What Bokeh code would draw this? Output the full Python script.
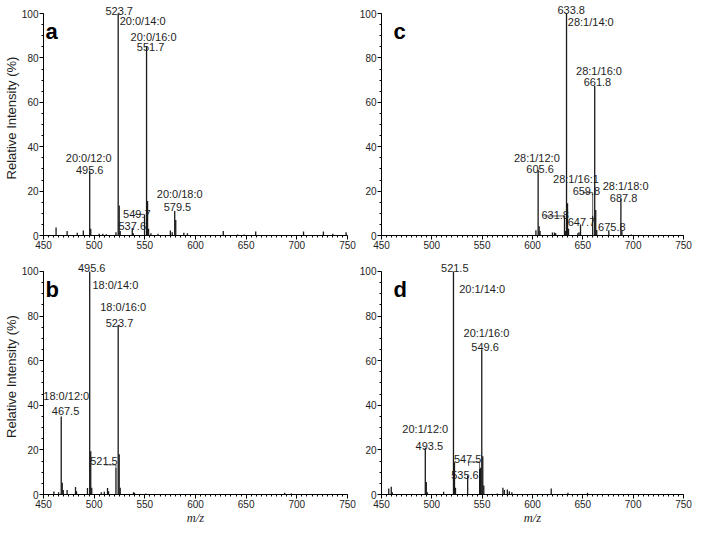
from bokeh.plotting import figure
from bokeh.models import Range1d, FixedTicker, Label, ColumnDataSource
from bokeh.layouts import gridplot
from bokeh.embed import file_html
from bokeh.resources import INLINE

# ---------------- data ----------------
x_ticks = [450, 500, 550, 600, 650, 700, 750]
x_minor = list(range(450, 751, 5))
y_ticks = [0, 20, 40, 60, 80, 100]
y_minor = list(range(0, 101, 5))

# panel a : 20:0 series
mz_a = [462.4, 473.3, 483.3, 489.3, 495.6, 496.6, 505.0, 508.5, 512.0, 521.5,
        523.7, 524.7, 525.7, 537.6, 538.6, 549.7, 551.7, 552.7, 553.7, 556.0,
        563.0, 575.2, 577.0, 579.5, 580.5, 588.5, 592.0, 627.4, 641.5, 648.0,
        659.4, 706.6, 726.2, 735.5, 748.6]
int_a = [3.6, 2.0, 1.2, 2.2, 29.0, 3.0, 0.8, 0.8, 0.6, 1.5,
         100.0, 13.5, 2.0, 3.4, 1.0, 9.5, 85.0, 15.5, 3.0, 1.0,
         0.8, 2.3, 1.5, 11.0, 7.0, 1.2, 1.0, 2.0, 0.5, 0.5,
         1.8, 1.8, 1.8, 0.8, 1.5]

# panel b : 18:0 series
mz_b = [460.3, 464.9, 467.5, 468.5, 469.5, 473.3, 481.6, 482.6, 493.4, 495.6,
        496.6, 497.6, 507.0, 510.0, 513.2, 514.2, 521.5, 523.7, 524.7, 525.7,
        538.8, 539.8, 551.0, 688.0, 694.5]
int_b = [1.3, 1.0, 35.0, 5.3, 2.0, 2.0, 3.4, 1.5, 2.9, 100.0,
         19.4, 3.0, 1.0, 1.2, 2.9, 1.5, 12.0, 76.0, 18.0, 3.0,
         1.0, 0.8, 0.5, 0.8, 0.5]

# panel c : 28:1 series
mz_c = [603.4, 605.6, 606.6, 607.5, 619.8, 621.8, 623.0, 631.8, 632.8, 633.8,
        634.8, 635.8, 645.0, 646.2, 647.7, 659.8, 661.8, 662.8, 663.8, 675.8,
        687.8, 688.8, 698.0]
int_c = [2.4, 29.5, 4.2, 2.0, 1.3, 1.3, 1.0, 8.8, 2.0, 100.0,
         14.5, 3.0, 1.0, 1.5, 5.0, 9.0, 67.5, 11.5, 2.5, 2.4,
         16.5, 2.0, 0.5]

# panel d : 20:1 series
mz_d = [457.2, 459.7, 460.7, 493.5, 494.5, 495.5, 511.7, 521.5, 522.5, 523.5,
        535.6, 547.5, 548.5, 549.6, 550.6, 551.6, 565.0, 570.6, 572.0, 575.0,
        577.0, 579.5, 618.6, 635.2, 654.7]
int_d = [2.7, 3.5, 1.0, 21.0, 5.6, 1.0, 1.2, 100.0, 14.5, 3.0,
         8.5, 11.4, 12.0, 64.7, 17.1, 4.0, 0.5, 3.0, 2.0, 2.2,
         1.5, 1.0, 2.7, 0.8, 0.8]

# peak annotations: (text, peak m/z)
ann_a = [("523.7", 523.7), ("20:0/14:0", 523.7), ("20:0/16:0", 551.7), ("551.7", 551.7),
         ("20:0/12:0", 495.6), ("495.6", 495.6), ("20:0/18:0", 579.5), ("579.5", 579.5),
         ("549.7", 549.7), ("537.6", 537.6)]
ann_b = [("495.6", 495.6), ("18:0/14:0", 495.6), ("18:0/16:0", 523.7), ("523.7", 523.7),
         ("18:0/12:0", 467.5), ("467.5", 467.5), ("521.5", 521.5)]
ann_c = [("633.8", 633.8), ("28:1/14:0", 633.8), ("28:1/16:0", 661.8), ("661.8", 661.8),
         ("28:1/12:0", 605.6), ("605.6", 605.6), ("28:1/16:1", 659.8), ("659.8", 659.8),
         ("28:1/18:0", 687.8), ("687.8", 687.8), ("631.8", 631.8), ("647.7", 647.7),
         ("675.8", 675.8)]
ann_d = [("521.5", 521.5), ("20:1/14:0", 521.5), ("20:1/16:0", 549.6), ("549.6", 549.6),
         ("20:1/12:0", 493.5), ("493.5", 493.5), ("547.5", 547.5), ("535.6", 535.6)]

# ---------------- layout / style (pixel offsets of the annotations) ----------------
# (dx px, dy px up from anchor, align)
lay_a = [(1, 3, "center"), (1.5, -7, "left"), (7, 10, "center"), (4, 0, "center"),
         (-1, 13.5, "center"), (0, 1, "center"), (5, 17.5, "center"), (2.7, 4.5, "center"),
         (-7.7, 0.5, "center"), (0, 2, "center")]
lay_b = [(2, 3, "center"), (2.7, -14, "left"), (5, 18, "center"), (1.3, 2.4, "center"),
         (5, 20, "center"), (4.3, 5, "center"), (-12, 4.3, "center")]
lay_c = [(4.7, 3.5, "center"), (1.3, -8.7, "left"), (4.3, 15, "center"), (2.7, 3.3, "center"),
         (-1.3, 12.3, "center"), (2, 0.7, "center"), (-16.7, 13.3, "center"), (-6.3, 1.7, "center"),
         (4.7, 13, "center"), (2.7, 0.7, "center"), (-9.3, 0.5, "center"), (1, 2, "center"),
         (3, 3, "center")]
lay_d = [(1.3, 3, "center"), (5.7, -17.7, "left"), (4.7, 16.7, "center"), (3.3, 2.7, "center"),
         (0, 18.3, "center"), (4, 2, "center"), (-12, 2.7, "center"), (-2.7, 0.7, "center")]

# leader lines: (peak m/z, top value, left length px, left drop px)
lead_a = [(549.7, 9.5, 10, 0)]
lead_b = [(521.5, 13.3, 12, 0)]
lead_c = [(631.8, 8.8, 20, 0), (659.8, 19.3, 10, 0)]
lead_d = [(547.5, 14.6, 11, 4)]

FONT = "Liberation Sans"
INK = "#1e1e1e"


def make_panel(letter, mz, inten, ann, lay, lead, width, height, bl, br, bb, top_pad,
               letter_dx, ylabel=False, xlabel=False):
    fw = width - bl - br
    fh = height - bb
    plot_h = fh - top_pad            # pixels for 0..100
    y_end = 100.0 * fh / plot_h
    p = figure(width=width, height=height, x_range=Range1d(450, 750), y_range=Range1d(0, y_end),
               output_backend="svg", toolbar_location=None,
               min_border_left=bl, min_border_right=br, min_border_top=0, min_border_bottom=bb)
    p.outline_line_color = None
    p.xgrid.visible = False
    p.ygrid.visible = False
    p.background_fill_color = "white"
    p.border_fill_color = "white"
    ux = 300.0 / fw
    uy = 100.0 / plot_h

    p.xaxis.ticker = FixedTicker(ticks=x_ticks, minor_ticks=x_minor)
    p.yaxis.ticker = FixedTicker(ticks=y_ticks, minor_ticks=y_minor)
    p.yaxis.bounds = (0, 100)
    p.xaxis.bounds = (450, 750)
    for ax in (p.xaxis[0], p.yaxis[0]):
        ax.axis_line_color = "black"
        ax.axis_line_width = 1
        ax.major_tick_line_color = "black"
        ax.minor_tick_line_color = "black"
        ax.major_tick_out = 4
        ax.major_tick_in = 0
        ax.minor_tick_out = 2
        ax.minor_tick_in = 0
        ax.major_label_text_font = FONT
        ax.major_label_text_font_size = "10px"
        ax.major_label_text_color = INK
        ax.major_label_standoff = 1

    if ylabel:
        p.yaxis.axis_label = "Relative Intensity (%)"
        p.yaxis.axis_label_text_font = FONT
        p.yaxis.axis_label_text_font_style = "normal"
        p.yaxis.axis_label_text_font_size = "13px"
        p.yaxis.axis_label_text_color = INK
        p.yaxis.axis_label_standoff = 0
    if xlabel:
        p.xaxis.axis_label = "m/z"
        p.xaxis.axis_label_text_font = "Liberation Serif"
        p.xaxis.axis_label_text_font_style = "italic"
        p.xaxis.axis_label_text_font_size = "12.5px"
        p.xaxis.axis_label_text_color = INK
        p.xaxis.axis_label_standoff = 0

    src = ColumnDataSource(dict(x=mz, y0=[0] * len(mz), y1=inten))
    p.segment(x0="x", y0="y0", x1="x", y1="y1", source=src, line_color="#1a1a1a", line_width=1.3)

    peak = dict(zip(mz, inten))
    tops = {}
    lx0, lx1, ly0, ly1 = [], [], [], []
    for (m, top, llen, ldrop) in lead:
        tops[m] = top
        lx0 += [m - llen * ux, m]
        lx1 += [m, m]
        ly0 += [top, top]
        ly1 += [top, peak[m]]
        if ldrop:
            lx0.append(m - llen * ux)
            lx1.append(m - llen * ux)
            ly0.append(top)
            ly1.append(top - ldrop * uy)
    if lx0:
        p.segment(x0=lx0, y0=ly0, x1=lx1, y1=ly1, line_color="#555555", line_width=1)

    for (txt, m), (dx, dy, al) in zip(ann, lay):
        ay = tops.get(m, peak[m])
        p.add_layout(Label(x=m, y=ay, x_offset=dx, y_offset=dy, text=txt, text_align=al,
                           text_baseline="alphabetic", text_font=FONT, text_font_size="11px",
                           text_color=INK))

    p.add_layout(Label(x=450, y=100, x_offset=letter_dx, y_offset=-18, text=letter,
                       text_align="left", text_baseline="alphabetic", text_font=FONT,
                       text_font_size="22px", text_font_style="bold", text_color="black"))
    return p


pa = make_panel("a", mz_a, int_a, ann_a, lay_a, lead_a, 356, 258, 38, 9, 23, 13, 2, ylabel=True)
pc = make_panel("c", mz_c, int_c, ann_c, lay_c, lead_c, 336, 258, 25, 9, 23, 13, 12)
pb = make_panel("b", mz_b, int_b, ann_b, lay_b, lead_b, 356, 269, 38, 9, 32, 13, 2, ylabel=True, xlabel=True)
pd = make_panel("d", mz_d, int_d, ann_d, lay_d, lead_d, 336, 269, 25, 9, 32, 13, 12, xlabel=True)

grid = gridplot([[pa, pc], [pb, pd]], toolbar_location=None)
open("out.html", "w").write(file_html(grid, INLINE))
